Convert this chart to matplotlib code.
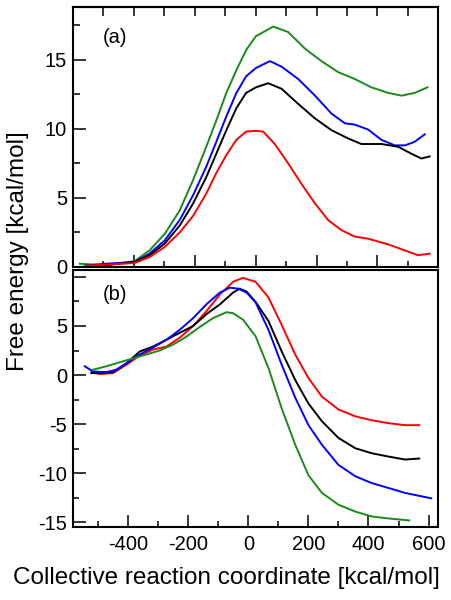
import matplotlib
matplotlib.use("Agg")
import matplotlib.pyplot as plt
from matplotlib.ticker import MultipleLocator, FixedLocator

plt.rcParams['font.family'] = ['Liberation Sans', 'DejaVu Sans']

# Panel (a)
a_green_x = [-577, -490, -397, -348, -298, -249, -205, -162, -129, -96, -63, -31, 1, 58, 107, 162, 216, 271, 326, 380, 435, 479, 522, 564]
a_green_y = [0.24, 0.12, 0.43, 1.2, 2.4, 4.1, 6.3, 8.7, 10.6, 12.6, 14.25, 15.7, 16.7, 17.4, 17.0, 15.8, 14.9, 14.1, 13.6, 13.0, 12.6, 12.4, 12.6, 13.0]
a_blue_x = [-555, -490, -397, -348, -298, -249, -205, -162, -129, -96, -63, -31, 1, 47, 85, 140, 195, 249, 293, 326, 369, 413, 457, 490, 522, 555]
a_blue_y = [0.12, 0.24, 0.36, 0.97, 1.93, 3.4, 5.2, 7.25, 9.06, 10.9, 12.6, 13.8, 14.4, 14.9, 14.5, 13.6, 12.4, 11.1, 10.4, 10.3, 9.95, 9.2, 8.8, 8.8, 9.06, 9.6]
a_black_x = [-533, -397, -348, -298, -249, -205, -162, -129, -96, -63, -31, 1, 41, 85, 140, 195, 249, 304, 347, 413, 468, 511, 544, 571]
a_black_y = [0.05, 0.36, 0.85, 1.7, 3.0, 4.6, 6.5, 8.2, 9.9, 11.5, 12.6, 13.0, 13.3, 12.9, 11.8, 10.75, 9.9, 9.3, 8.9, 8.9, 8.7, 8.2, 7.85, 8.0]
a_red_x = [-560, -533, -397, -348, -298, -249, -205, -162, -129, -96, -63, -31, 1, 25, 63, 107, 151, 195, 238, 282, 326, 369, 435, 490, 533, 571]
a_red_y = [0.1, 0.12, 0.29, 0.72, 1.45, 2.5, 3.7, 5.3, 6.8, 8.1, 9.2, 9.8, 9.85, 9.8, 8.9, 7.5, 6.0, 4.6, 3.4, 2.66, 2.2, 2.05, 1.64, 1.2, 0.85, 0.97]

# Panel (b)
b_red_x = [-523, -495, -451, -406, -362, -318, -273, -229, -184, -140, -95, -51, -18, 24, 67, 111, 156, 200, 245, 300, 356, 411, 467, 522, 569]
b_red_y = [0.3, 0.1, 0.2, 1.05, 2.0, 2.6, 2.9, 3.8, 5.0, 6.5, 8.2, 9.5, 9.9, 9.5, 7.9, 5.1, 2.1, -0.3, -2.2, -3.5, -4.2, -4.6, -4.9, -5.1, -5.1]
b_black_x = [-523, -495, -451, -406, -362, -318, -273, -229, -184, -140, -95, -51, -29, -6, 24, 67, 111, 156, 200, 245, 300, 356, 411, 467, 522, 569]
b_black_y = [0.2, 0.2, 0.3, 1.2, 2.4, 2.9, 3.6, 4.3, 5.0, 6.2, 7.2, 8.4, 8.8, 8.5, 7.45, 5.5, 2.4, -0.5, -2.9, -4.7, -6.4, -7.45, -7.96, -8.3, -8.6, -8.5]
b_blue_x = [-545, -518, -473, -440, -406, -362, -318, -273, -229, -184, -140, -95, -62, -34, -6, 24, 67, 111, 156, 200, 245, 300, 356, 411, 467, 522, 609]
b_blue_y = [0.9, 0.37, 0.3, 0.54, 1.2, 2.1, 2.8, 3.6, 4.6, 5.8, 7.2, 8.4, 8.9, 8.8, 8.4, 7.4, 4.6, 1.05, -2.3, -5.1, -7.1, -9.15, -10.3, -11.0, -11.5, -12.0, -12.55]
b_green_x = [-518, -473, -429, -384, -340, -296, -251, -207, -162, -118, -73, -51, -18, 24, 67, 111, 156, 200, 245, 300, 356, 411, 467, 536]
b_green_y = [0.54, 0.9, 1.3, 1.7, 2.1, 2.5, 3.1, 3.9, 4.9, 5.8, 6.4, 6.3, 5.65, 3.95, 0.7, -3.4, -7.1, -10.2, -12.0, -13.2, -13.9, -14.4, -14.6, -14.8]

x_tick_labels = ['-400', '-200', '0', '200', '400', '600']

GREEN = '#1a8a1a'
BLUE = '#0000ff'
RED = '#ff0000'
BLACK = '#000000'
LW = 1.4
FS = 14.5

fig = plt.figure(figsize=(4.52, 6), dpi=100)
ax1 = fig.add_axes([0.161, 0.555, 0.809, 0.433])
ax2 = fig.add_axes([0.161, 0.122, 0.809, 0.428])

for ax in (ax1, ax2):
    for s in ax.spines.values():
        s.set_linewidth(1.5)

# top panel
ax1.plot(a_green_x, a_green_y, color=GREEN, lw=LW)
ax1.plot(a_blue_x, a_blue_y, color=BLUE, lw=LW)
ax1.plot(a_black_x, a_black_y, color=BLACK, lw=LW)
ax1.plot(a_red_x, a_red_y, color=RED, lw=LW)
ax1.set_xlim(-600, 600)
ax1.set_ylim(0, 18.8)
ax1.xaxis.set_major_locator(MultipleLocator(200))
ax1.xaxis.set_minor_locator(MultipleLocator(100))
ax1.yaxis.set_major_locator(MultipleLocator(5))
ax1.yaxis.set_minor_locator(MultipleLocator(2.5))
ax1.tick_params(axis='x', which='both', direction='in', bottom=True, top=False, labelbottom=False)
ax1.tick_params(axis='x', which='major', length=8.5, width=1.1)
ax1.tick_params(axis='x', which='minor', length=4.5, width=1.1)
ax1.tick_params(axis='y', which='both', direction='in', left=True, right=False, labelsize=FS, width=1.1, pad=4)
ax1.tick_params(axis='y', which='major', length=9)
ax1.tick_params(axis='y', which='minor', length=5)
sec = ax1.secondary_xaxis('top')
sec.xaxis.set_major_locator(MultipleLocator(100))
sec.tick_params(axis='x', direction='in', length=6.3, width=1.1, labeltop=False)
sec.spines['top'].set_linewidth(1.5)
ax1.text(-461, 16.6, '(a)', fontsize=FS, ha='center', va='center')

# bottom panel
ax2.plot(b_red_x, b_red_y, color=RED, lw=LW)
ax2.plot(b_black_x, b_black_y, color=BLACK, lw=LW)
ax2.plot(b_blue_x, b_blue_y, color=BLUE, lw=LW)
ax2.plot(b_green_x, b_green_y, color=GREEN, lw=LW)
ax2.set_xlim(-585, 633)
ax2.set_ylim(-15.45, 10.7)
ax2.xaxis.set_major_locator(FixedLocator([-400, -200, 0, 200, 400, 600]))
ax2.set_xticklabels(x_tick_labels)
ax2.xaxis.set_minor_locator(MultipleLocator(100))
ax2.yaxis.set_major_locator(FixedLocator([-15, -10, -5, 0, 5, 10]))
ax2.set_yticklabels(['-15', '-10', '-5', '0', '5', ''])
ax2.yaxis.set_minor_locator(MultipleLocator(2.5))
ax2.tick_params(axis='both', which='both', direction='in', top=False, right=False, labelsize=FS, width=1.1)
ax2.tick_params(axis='both', which='major', length=9, pad=6)
ax2.tick_params(axis='both', which='minor', length=4.5)
ax2.tick_params(axis='y', which='major', pad=4)
ax2.text(-444, 8.2, '(b)', fontsize=FS, ha='center', va='center')

fig.text(0.5, 1 - 578 / 600, 'Collective reaction coordinate [kcal/mol]', fontsize=17.5,
         ha='center', va='center')
fig.text(18 / 452, 1 - 251 / 600, 'Free energy [kcal/mol]', fontsize=17.5, rotation=90,
         ha='center', va='center')

fig.savefig('out.png', dpi=100)
